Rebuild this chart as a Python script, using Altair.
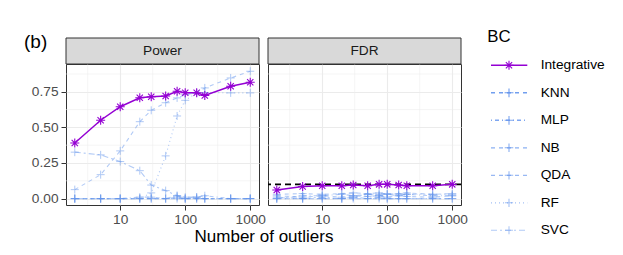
import altair as alt
import pandas as pd

FONT = "Liberation Sans"
PURPLE = "#9400D3"
BLUE = "#6495ED"

x_vals = [2, 5, 10, 20, 30, 50, 75, 100, 150, 200, 500, 1000]
series = ["Integrative", "KNN", "MLP", "NB", "QDA", "RF", "SVC"]
panels = ["Power", "FDR"]

power_integrative = [0.39, 0.55, 0.645, 0.708, 0.715, 0.72, 0.754, 0.743, 0.743, 0.724, 0.789, 0.817]
power_knn = [0.063, 0.168, 0.335, 0.54, 0.62, 0.673, 0.707, 0.73, 0.742, 0.777, 0.847, 0.894]
power_mlp = [0.0, 0.0, 0.0, 0.01, 0.01, 0.0, 0.02, 0.0, 0.01, 0.02, 0.0, 0.0]
power_nb = [0.0, 0.0, 0.0, 0.0, 0.0, 0.0, 0.0, 0.0, 0.0, 0.0, 0.0, 0.0]
power_qda = [0.0, 0.0, 0.0, 0.0, 0.0, 0.0, 0.01, 0.0, 0.0, 0.0, 0.0, 0.0]
power_rf = [0.0, 0.0, 0.0, 0.0, 0.04, 0.30, 0.58, 0.69, 0.742, 0.745, 0.742, 0.742]
power_svc = [0.326, 0.307, 0.26, 0.196, 0.095, 0.056, 0.02, 0.01, 0.01, 0.0, 0.0, 0.0]

fdr_integrative = [0.06, 0.085, 0.09, 0.09, 0.095, 0.09, 0.10, 0.10, 0.095, 0.09, 0.09, 0.10]
fdr_knn = [0.03, 0.035, 0.03, 0.035, 0.04, 0.035, 0.04, 0.03, 0.035, 0.04, 0.03, 0.035]
fdr_mlp = [0.0, 0.02, 0.02, 0.03, 0.02, 0.03, 0.02, 0.03, 0.02, 0.03, 0.02, 0.02]
fdr_nb = [0.0, 0.0, 0.0, 0.0, 0.0, 0.0, 0.0, 0.0, 0.0, 0.0, 0.0, 0.0]
fdr_qda = [0.02, 0.01, 0.02, 0.01, 0.02, 0.015, 0.02, 0.01, 0.02, 0.015, 0.01, 0.02]
fdr_rf = [0.0, 0.0, 0.0, 0.0, 0.01, 0.03, 0.03, 0.035, 0.03, 0.03, 0.03, 0.03]
fdr_svc = [0.01, 0.0, 0.01, 0.0, 0.01, 0.0, 0.01, 0.0, 0.0, 0.0, 0.0, 0.0]

fdr_level = [0.1]
x_major = [10, 100, 1000]
x_minor = [3.162, 31.62, 316.2]
y_major = [0, 0.25, 0.5, 0.75]
y_minor = [0.125, 0.375, 0.625, 0.875]

values = {
    "Power": [power_integrative, power_knn, power_mlp, power_nb, power_qda, power_rf, power_svc],
    "FDR": [fdr_integrative, fdr_knn, fdr_mlp, fdr_nb, fdr_qda, fdr_rf, fdr_svc],
}
rows = []
for p in panels:
    for s, arr in zip(series, values[p]):
        for xv, yv in zip(x_vals, arr):
            rows.append({"panel": p, "series": s, "x": xv, "y": yv})
df = pd.DataFrame(rows)

dashes = [[1, 0], [4, 4], [1, 3, 4, 3], [4, 4], [4, 4], [1, 3], [6, 3, 2, 3]]
PLUS = "M-1,0L1,0M0,-1L0,1"
STAR = "M-1,0L1,0M0,-1L0,1M-0.7,-0.7L0.7,0.7M-0.7,0.7L0.7,-0.7"

W, H = 193, 141
xscale = alt.Scale(type="log", domain=[1.466, 1364], nice=False)
yscale = alt.Scale(domain=[-0.045, 0.945], nice=False, zero=False)

common_axis = dict(
    title=None, grid=True, gridColor="#EBEBEB", gridWidth=1.1, domain=False,
    tickColor="#333333", tickSize=5, tickWidth=1, labelFontSize=13.7,
    labelColor="#4D4D4D", labelFont=FONT, labelFlush=False, labelOverlap=False,
)
xaxis = alt.Axis(values=x_major, format="d", labelPadding=2, **common_axis)


def yaxis(show):
    if show:
        return alt.Axis(values=y_major, format=".2f", labelPadding=3, **common_axis)
    return alt.Axis(values=y_major, labels=False, ticks=False, title=None, grid=True,
                    gridColor="#EBEBEB", gridWidth=1.1, domain=False)


def panel(name, show_y):
    d = df[df.panel == name]
    ya = yaxis(show_y)
    X = lambda f: alt.X(f, scale=xscale, axis=xaxis)
    Y = lambda f: alt.Y(f, scale=yscale, axis=ya)

    gx = alt.Chart(pd.DataFrame({"gx": x_minor})).mark_rule(
        color="#EBEBEB", strokeWidth=0.55).encode(x=X("gx:Q"))
    gy = alt.Chart(pd.DataFrame({"gy": y_minor})).mark_rule(
        color="#EBEBEB", strokeWidth=0.55).encode(y=Y("gy:Q"))

    blue = d[d.series != "Integrative"]
    purple = d[d.series == "Integrative"]
    bl = alt.Chart(blue).mark_line(color=BLUE, opacity=0.5, strokeWidth=1.1).encode(
        x=X("x:Q"), y=Y("y:Q"),
        strokeDash=alt.StrokeDash("series:N", scale=alt.Scale(domain=series, range=dashes), legend=None),
    )
    bp = alt.Chart(blue).mark_point(shape=PLUS, color=BLUE, opacity=0.5, size=64,
                                    strokeWidth=1, filled=False).encode(x=X("x:Q"), y=Y("y:Q"))
    pl = alt.Chart(purple).mark_line(color=PURPLE, strokeWidth=1.5).encode(x=X("x:Q"), y=Y("y:Q"))
    pp = alt.Chart(purple).mark_point(shape=STAR, color=PURPLE, size=81, strokeWidth=1.1,
                                      filled=False, opacity=1).encode(x=X("x:Q"), y=Y("y:Q"))

    strip_df = pd.DataFrame({"label": [name]})
    strip = alt.Chart(strip_df).mark_rect(fill="#D9D9D9", stroke="#333333", strokeWidth=1).encode(
        x=alt.value(0), x2=alt.value(W), y=alt.value(-26), y2=alt.value(0))
    strip_t = alt.Chart(strip_df).mark_text(fontSize=13.7, font=FONT, color="#1A1A1A",
                                            align="center", baseline="middle").encode(
        x=alt.value(W / 2), y=alt.value(-13), text="label:N")

    layers = [gx, gy, bl, bp]
    if name == "FDR":
        lvl = alt.Chart(pd.DataFrame({"lvl": fdr_level})).mark_rule(
            color="black", strokeDash=[6, 4], strokeWidth=1.6).encode(y=Y("lvl:Q"))
        layers.append(lvl)
    layers += [pl, pp, strip, strip_t]
    if name == "Power":
        extra_df = pd.DataFrame({"t": ["(b)"], "xt": ["Number of outliers"]})
        tag = alt.Chart(extra_df).mark_text(fontSize=19, font=FONT, color="black",
                                            align="left", baseline="alphabetic").encode(
            x=alt.value(-42), y=alt.value(-16.5), text="t:N")
        xt = alt.Chart(extra_df).mark_text(fontSize=17, font=FONT, color="black",
                                           align="center", baseline="alphabetic").encode(
            x=alt.value(198), y=alt.value(178), text="xt:N")
        anchor = alt.Chart(extra_df).mark_rule(strokeOpacity=0, opacity=0).encode(
            x=alt.value(-44), x2=alt.value(-44), y=alt.value(-40), y2=alt.value(-39))
        layers += [tag, xt, anchor]
    return alt.layer(*layers).properties(width=W, height=H)


power = panel("Power", True)
fdr = panel("FDR", False)

leg_df = pd.DataFrame({"series": series})
leg_y = alt.Y("series:N", scale=alt.Scale(type="point", domain=series, range=[1.3, 166.3], padding=0), axis=None)
dash_enc = alt.StrokeDash("series:N", scale=alt.Scale(domain=series, range=dashes), legend=None)
color_enc = alt.Color("series:N", scale=alt.Scale(domain=series, range=[PURPLE] + [BLUE] * 6), legend=None)
op_enc = alt.Opacity("series:N", scale=alt.Scale(domain=series, range=[1] + [0.5] * 6), legend=None)
sw_enc = alt.StrokeWidth("series:N", scale=alt.Scale(domain=series, range=[1.5] + [1.1] * 6), legend=None)
shape_enc = alt.Shape("series:N", scale=alt.Scale(domain=series, range=[STAR] + [PLUS] * 6), legend=None)

leg_line = alt.Chart(leg_df).mark_rule().encode(
    x=alt.value(21), x2=alt.value(57.3), y=leg_y, color=color_enc, strokeDash=dash_enc,
    opacity=op_enc, strokeWidth=sw_enc)
leg_pt = alt.Chart(leg_df).mark_point(filled=False, strokeWidth=1.1).encode(
    x=alt.value(39), y=leg_y, color=color_enc, shape=shape_enc, opacity=op_enc,
    size=alt.Size("series:N", scale=alt.Scale(domain=series, range=[81] + [64] * 6), legend=None))
leg_txt = alt.Chart(leg_df).mark_text(align="left", baseline="middle", fontSize=13.7,
                                      font=FONT, color="black").encode(
    x=alt.value(70.7), y=leg_y, text="series:N")
leg_title = alt.Chart(pd.DataFrame({"t": ["BC"]})).mark_text(
    align="left", baseline="alphabetic", fontSize=16.8, font=FONT, color="black").encode(
    x=alt.value(17.3), y=alt.value(-22.3), text="t:N")
legend = alt.layer(leg_line, leg_pt, leg_txt, leg_title).properties(
    width=140, height=168, view=alt.ViewBackground(stroke="transparent"))

chart = alt.hconcat(power, fdr, legend, spacing=9, bounds="flush").properties(
    padding={"left": 13, "top": 15, "right": 0, "bottom": 0},
    background="white",
).configure_view(stroke="#333333", strokeWidth=1)

chart.save("out.html", embed_options={"renderer": "svg", "actions": False})
